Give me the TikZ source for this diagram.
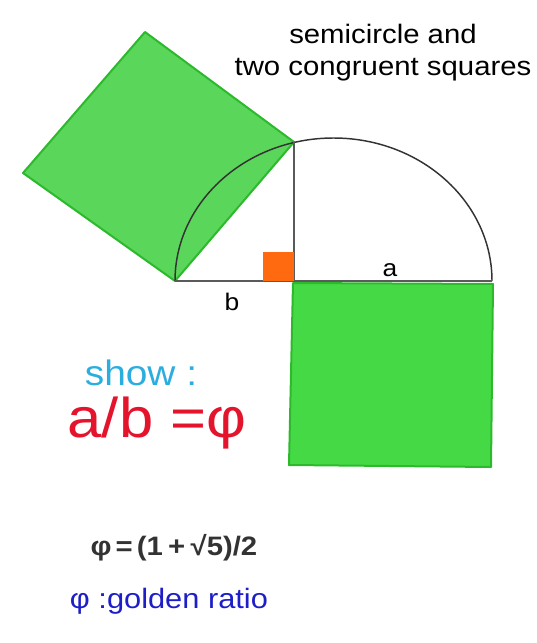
\documentclass[tikz,border=0pt]{standalone}
\usepackage{fontspec}
\setmainfont[FakeStretch=1.1]{Liberation Sans}
\usetikzlibrary{positioning}
\definecolor{sqlight}{HTML}{5AD65A}
\definecolor{sqdark}{HTML}{46D946}
\definecolor{sqedge}{HTML}{2CBA2C}
\definecolor{rightmark}{HTML}{FF6A10}
\definecolor{linegray}{HTML}{5A5A5A}
\definecolor{showcyan}{HTML}{2BAEDF}
\definecolor{ratiored}{HTML}{E3142C}
\definecolor{formgray}{HTML}{333333}
\definecolor{nameblue}{HTML}{1E1EC8}

\begin{document}
\begin{tikzpicture}[x=0.75pt,y=-0.75pt,
  squareA/.style={fill=sqlight,draw=sqedge,line width=1.5pt,line join=round},
  squareB/.style={fill=sqdark,draw=sqedge,line width=1.5pt,line join=round},
  segment/.style={draw=linegray,line width=1.5pt},
  arcline/.style={draw=black!80,line width=1.1pt}]
  \useasboundingbox (0,0) rectangle (536,643);

  % ---------- pontos da figura ----------
  \coordinate (A) at (175,281);
  \coordinate (P) at (294,281);
  \coordinate (B) at (492,281);
  \coordinate (C) at (294,142);
  \coordinate (D) at (23,173);
  \coordinate (E) at (145,32);

  % ---------- quadrado sobre AC ----------
  \draw[squareA] (A) -- (C) -- (E) -- (D) -- cycle;

  % ---------- semicirculo ----------
  \draw[arcline] (B) arc[start angle=0,end angle=-180,x radius=158.5,y radius=143];

  % ---------- segmentos ----------
  \draw[segment] (A) -- (B);
  \draw[segment] (P) -- (C);

  % ---------- quadrado abaixo de a ----------
  \draw[squareB] (293,283) -- (493,284) -- (491,467) -- (289,465) -- cycle;

  % angulo reto
  \fill[rightmark] (263,252) rectangle (P);

  % ---------- rotulos ----------
  \node[font=\fontsize{18}{22}\selectfont] (la) at (390,270) {a};
  \node[font=\fontsize{18}{22}\selectfont] (lb) at (232,302) {b};
  \node[align=center,font=\fontsize{20}{24}\selectfont] (title) at (383,53)
    {semicircle and\\ two congruent squares};

  \node[text=showcyan,font=\fontsize{26.5}{30}\selectfont] (show) at (141,373) {show :};
  \node[text=ratiored,font=\fontsize{42}{48}\selectfont] (ratio) at (157,423) {a/b =φ};
  \node[text=formgray,font=\fontsize{20}{24}\selectfont\bfseries] (phiform) at (174,548)
    {φ\hspace{0.15em}=\hspace{0.15em}(1\hspace{0.2em}+\hspace{0.2em}√5)/2};
  \node[text=nameblue,font=\fontsize{21}{25}\selectfont] (phiname) at (169,601)
    {φ :golden ratio};
\end{tikzpicture}
\end{document}
